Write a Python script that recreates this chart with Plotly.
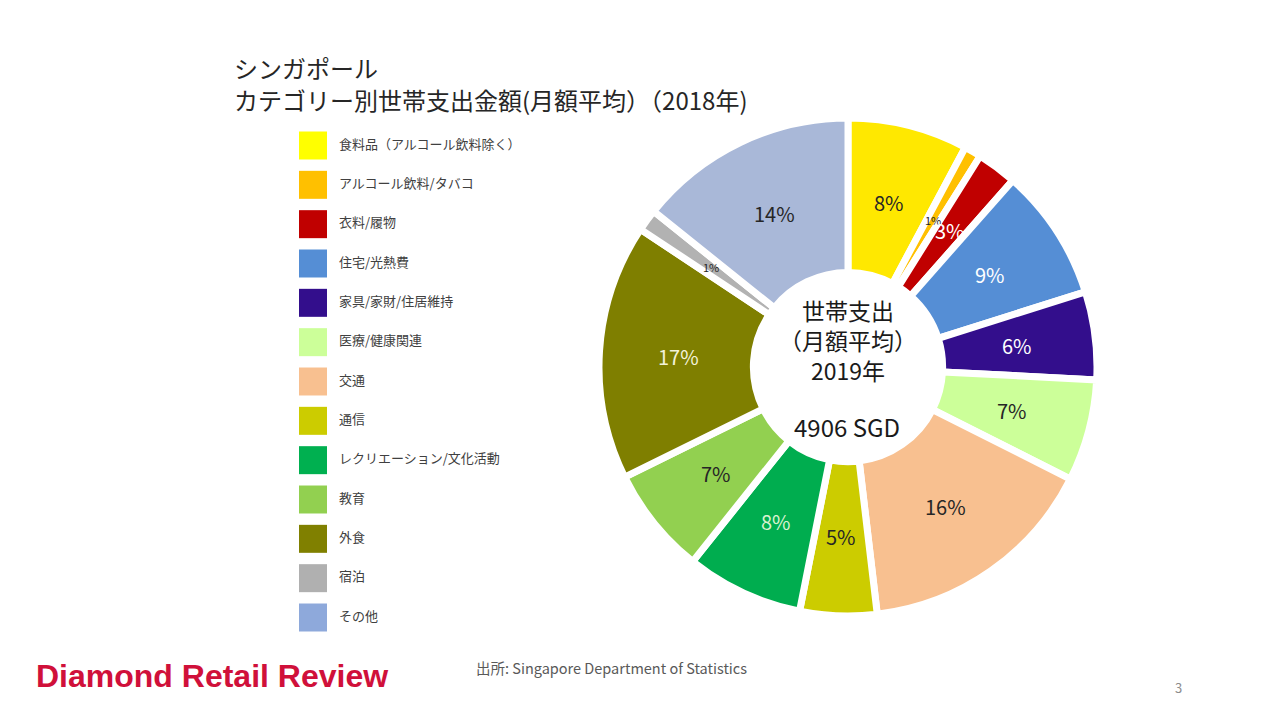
import math
import plotly.graph_objects as go

categories = ["食料品（アルコール飲料除く）", "アルコール飲料/タバコ", "衣料/履物", "住宅/光熱費",
              "家具/家財/住居維持", "医療/健康関連", "交通", "通信", "レクリエーション/文化活動",
              "教育", "外食", "宿泊", "その他"]
amounts_sgd = [383, 54, 128, 422, 280, 324, 770, 245, 373, 343, 815, 70, 699]
pie_colors = ["#FFE800", "#FFC000", "#C00000", "#558ED5", "#330E8C", "#CCFF99", "#F8C090",
              "#CCCC00", "#00AD4F", "#92D050", "#7F7F00", "#B2B2B2", "#A9B8D8"]
legend_colors = ["#FFFF00", "#FFC000", "#C00000", "#558ED5", "#330E8C", "#CCFF99", "#F8C090",
                 "#CCCC00", "#00B050", "#92D050", "#808000", "#B0B0B0", "#8EA9DB"]
label_colors = ["#262626", "#262626", "#FFFFFF", "#FFFFFF", "#FFFFFF", "#262626", "#262626",
                "#262626", "#D9F2D0", "#262626", "#F2F2D9", "#262626", "#262626"]
label_sizes = [20, 11, 20, 20, 20, 20, 20, 20, 20, 20, 20, 11, 20]

title_lines = ["シンガポール", "カテゴリー別世帯支出金額(月額平均）（2018年)"]
center_lines = ["世帯支出", "（月額平均）", "2019年"]
center_total = "4906 SGD"
source_text = "出所: Singapore Department of Statistics"
brand_text = "Diamond Retail Review"
page_no = "3"

JP = "Noto Sans CJK JP"
OFF = 8                      # page body margin
W, H = 1280 - OFF, 720 - OFF
cx, cy, R = 848 - OFF, 367 - OFF, 249
R_LABEL = 170


def px(x):
    return (x - OFF) / W


def py(y):
    return 1 - (y - OFF) / H


fig = go.Figure()

fig.add_trace(go.Pie(
    labels=categories, values=amounts_sgd, sort=False, direction="clockwise", rotation=0,
    hole=0.38,
    marker=dict(colors=pie_colors, line=dict(color="white", width=7)),
    textinfo="none",
    domain=dict(x=[(cx - R) / W, (cx + R) / W], y=[1 - (cy + R) / H, 1 - (cy - R) / H]),
    showlegend=False, hoverinfo="label+value+percent",
))

# custom legend drawn as square markers on hidden pixel-scaled axes
idx = list(range(len(categories)))
fig.add_trace(go.Scatter(
    x=[0] * len(categories), y=idx, mode="markers",
    marker=dict(symbol="square", size=28, color=legend_colors, line=dict(width=0)),
    cliponaxis=False, showlegend=False, hoverinfo="skip",
))
fig.add_trace(go.Scatter(
    x=[26] * len(categories), y=idx, mode="text", text=categories, textposition="middle right",
    textfont=dict(family=JP, size=13, color="#404040"),
    cliponaxis=False, showlegend=False, hoverinfo="text",
))

annotations = []
# slice percentage labels at mid-ring of each slice
total = sum(amounts_sgd)
cum = 0
for v, c, s in zip(amounts_sgd, label_colors, label_sizes):
    theta = 2 * math.pi * (cum + v / 2) / total
    cum += v
    lx = cx + R_LABEL * math.sin(theta)
    ly = cy - R_LABEL * math.cos(theta)
    annotations.append(dict(text=f"{round(100 * v / total)}%", x=lx / W, y=1 - ly / H,
                            xref="paper", yref="paper", xanchor="center", yanchor="middle",
                            showarrow=False, font=dict(family=JP, size=s, color=c)))

for line, y in zip(title_lines, [68, 100]):
    annotations.append(dict(text=line, x=px(232), y=py(y), xref="paper", yref="paper",
                            xanchor="left", yanchor="middle", showarrow=False,
                            font=dict(family=JP, size=24, color="#262626")))

annotations += [
    dict(text="<br>".join(center_lines), x=px(848), y=py(340), xref="paper", yref="paper",
         xanchor="center", yanchor="middle", align="center", showarrow=False,
         font=dict(family=JP, size=23, color="#1A1A1A")),
    dict(text=center_total, x=px(847), y=py(426), xref="paper", yref="paper",
         xanchor="center", yanchor="middle", showarrow=False,
         font=dict(family=JP, size=24, color="#1A1A1A")),
    dict(text=source_text, x=px(474), y=py(667), xref="paper", yref="paper",
         xanchor="left", yanchor="middle", showarrow=False,
         font=dict(family=JP, size=14.5, color="#595959")),
    dict(text="<b>" + brand_text + "</b>", x=px(34), y=py(676), xref="paper", yref="paper",
         xanchor="left", yanchor="middle", showarrow=False,
         font=dict(family="Liberation Sans", size=32, color="#D0103A")),
    dict(text=page_no, x=px(1178), y=py(687), xref="paper", yref="paper",
         xanchor="center", yanchor="middle", showarrow=False,
         font=dict(family=JP, size=13, color="#8C8C8C")),
]

# legend placement: item 0 centred at 145.5 px, item 12 at 617.5 px, squares at x = 313 px
leg_x0 = 313 - OFF
leg_top, leg_bot = 145.5 - OFF, 617.5 - OFF
step = (leg_bot - leg_top) / (len(categories) - 1)

fig.update_layout(
    width=W, height=H, margin=dict(l=0, r=0, t=0, b=0),
    paper_bgcolor="white", plot_bgcolor="white",
    xaxis=dict(domain=[0, 1], range=[-leg_x0, W - leg_x0], visible=False, fixedrange=True),
    yaxis=dict(domain=[0, 1], range=[(H - leg_top) / step, -leg_top / step],
               visible=False, fixedrange=True),
    annotations=annotations,
)

fig.write_html("out.html")
